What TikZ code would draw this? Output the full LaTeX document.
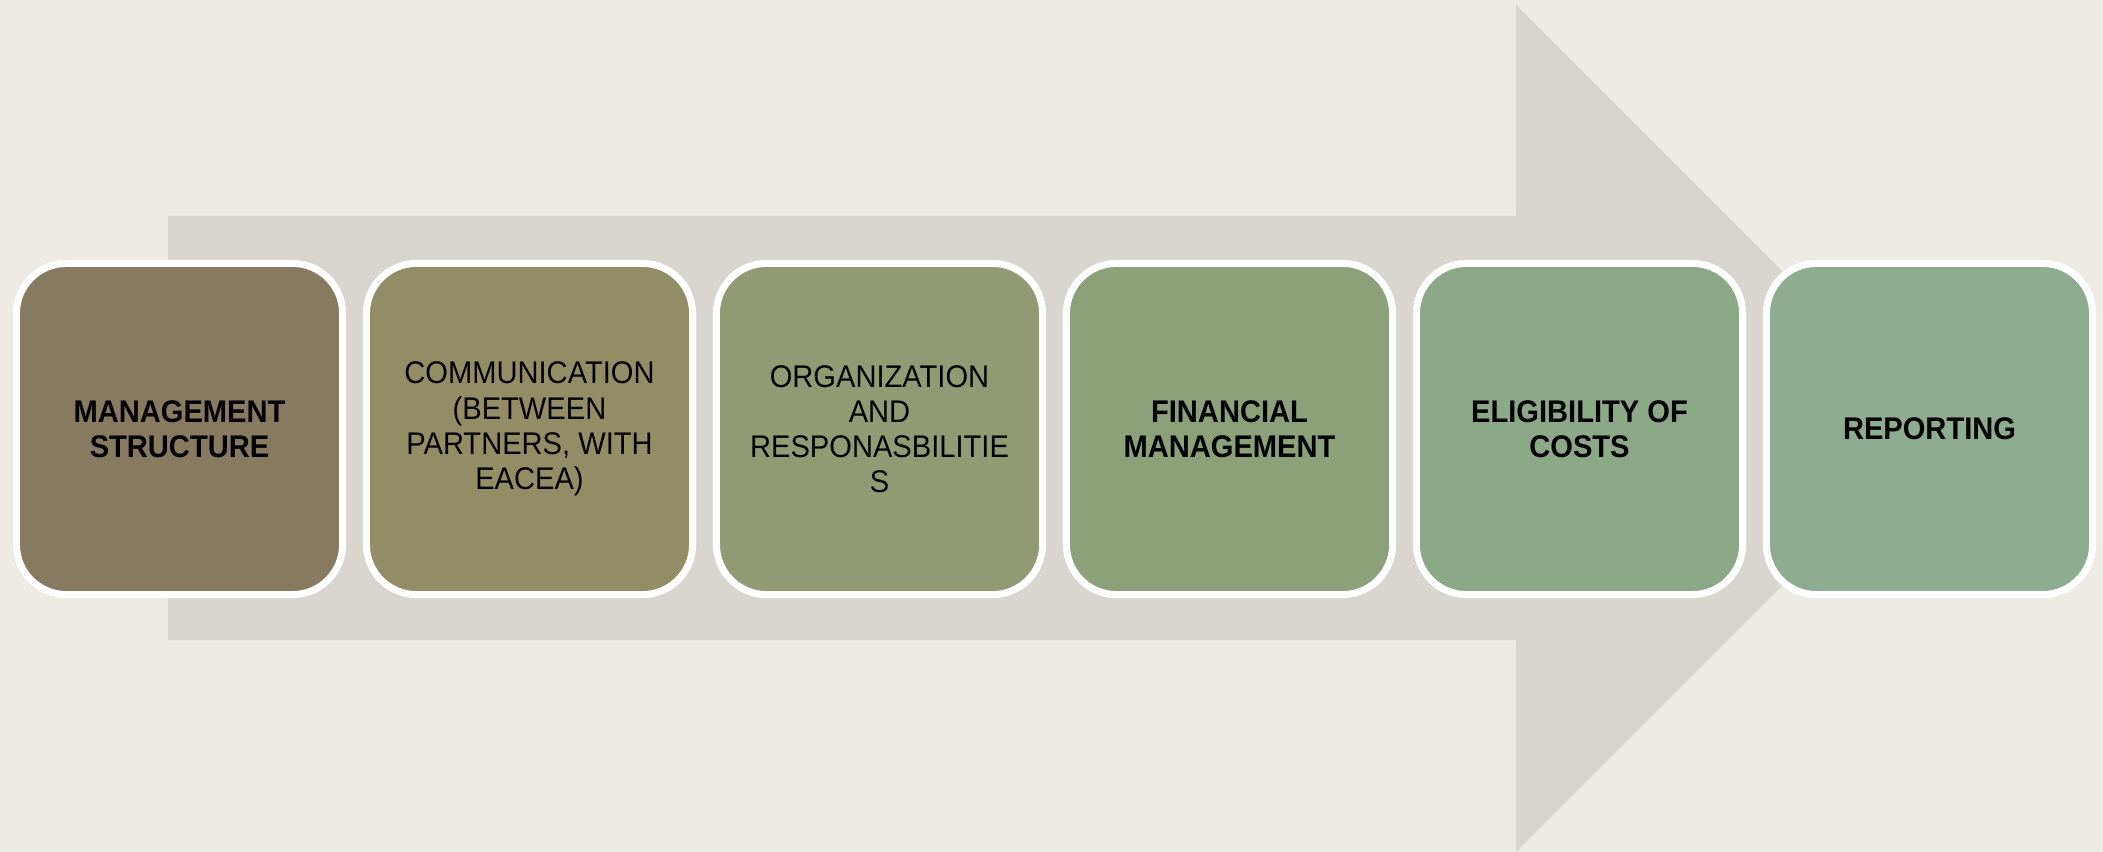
\documentclass[tikz,border=0pt]{standalone}
\usepackage{fontspec}
\newfontfamily\boxfont[FakeStretch=0.93]{Liberation Sans}
\definecolor{bgc}{RGB}{238,235,228}
\definecolor{arrowc}{RGB}{217,214,208}
\definecolor{cA}{RGB}{135,122,97}
\definecolor{cB}{RGB}{147,141,102}
\definecolor{cC}{RGB}{145,154,115}
\definecolor{cD}{RGB}{140,160,122}
\definecolor{cE}{RGB}{139,168,135}
\definecolor{cF}{RGB}{142,172,143}
\tikzset{
  stepbox/.style={draw=white, line width=0.07cm, rounded corners=0.5cm,
    minimum width=3.26cm, minimum height=3.31cm, inner sep=0pt,
    align=center, text=black, font=\boxfont\fontsize{8.9}{10}\selectfont},
  boldtext/.style={font=\boxfont\bfseries\fontsize{8.9}{10}\selectfont}
}
\begin{document}
\begin{tikzpicture}[x=0.01cm,y=-0.01cm]
\fill[bgc] (0,0) rectangle (2103,852);
\useasboundingbox (0,0) rectangle (2103,852);
% big arrow
\fill[arrowc] (168,216) -- (1516,216) -- (1516,5) -- (1939.5,428.5) -- (1516,852) -- (1516,640) -- (168,640) -- cycle;
% boxes
\node[stepbox, fill=cA, boldtext] (b1) at (179.5,429) {MANAGEMENT\\STRUCTURE};
\node[stepbox, fill=cB] (b2) at (529.5,429) {COMMUNICATION\\(BETWEEN\\PARTNERS, WITH\\EACEA)};
\node[stepbox, fill=cC] (b3) at (879.5,429) {ORGANIZATION\\AND\\RESPONASBILITIE\\S};
\node[stepbox, fill=cD, boldtext] (b4) at (1229.5,429) {FINANCIAL\\MANAGEMENT};
\node[stepbox, fill=cE, boldtext] (b5) at (1579.5,429) {ELIGIBILITY OF\\COSTS};
\node[stepbox, fill=cF, boldtext] (b6) at (1929.5,429) {REPORTING};
\end{tikzpicture}
\end{document}
